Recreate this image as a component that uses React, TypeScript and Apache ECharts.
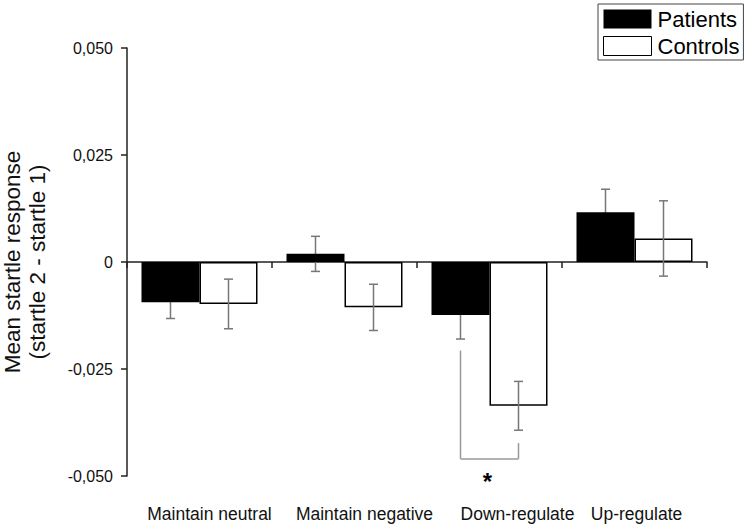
import React, { useEffect, useRef } from "react";
import * as echarts from "echarts";

const categories = ["Maintain neutral", "Maintain negative", "Down-regulate", "Up-regulate"];
const patients = [-0.0094, 0.0019, -0.0124, 0.0116];
const patientsErr = [0.0038, 0.0041, 0.0056, 0.0054];
const controls = [-0.0098, -0.0106, -0.0336, 0.0055];
const controlsErr = [0.0058, 0.0054, 0.0057, 0.0088];
const yTickValues = [-0.05, -0.025, 0, 0.025, 0.05];
const yTickLabels = ["-0,050", "-0,025", "0", "0,025", "0,050"];
// significance bracket: [category, left top, right top, bottom, star position]
const bracketData = [[2, -0.0207, -0.0423, -0.046, -0.0512]];
const starLabel = "*";

// layout only: horizontal shift (px) of each category label, as placed in the original
const labelShift = [10, 20, 28, 2];

const FONT = "'Liberation Sans', Arial, sans-serif";

export default function App() {
  const ref = useRef<HTMLDivElement>(null);
  useEffect(() => {
    if (!ref.current) return;
    const chart = echarts.init(ref.current, undefined, { renderer: "svg" });
    const yMin = yTickValues[0];
    const yInt = yTickValues[1] - yTickValues[0];
    const errRender = (offFrac: number) => (params: any, api: any) => {
      const idx = api.value(0);
      const lo = api.value(1);
      const hi = api.value(2);
      const band = api.size([1, 0])[0];
      const off = offFrac * band;
      const top = api.coord([idx, hi]);
      const bot = api.coord([idx, lo]);
      const x = top[0] + off;
      const cap = 4.5;
      const st = { stroke: "#777", lineWidth: 1.5 };
      return {
        type: "group",
        children: [
          { type: "line", shape: { x1: x, y1: top[1], x2: x, y2: bot[1] }, style: st },
          { type: "line", shape: { x1: x - cap, y1: top[1], x2: x + cap, y2: top[1] }, style: st },
          { type: "line", shape: { x1: x - cap, y1: bot[1], x2: x + cap, y2: bot[1] }, style: st },
        ],
      };
    };
    const rich: Record<string, any> = {};
    labelShift.forEach((s, i) => {
      rich["c" + i] = {
        fontSize: 17.5,
        color: "#111",
        fontFamily: FONT,
        padding: s >= 0 ? [0, 0, 0, 2 * s] : [0, -2 * s, 0, 0],
      };
    });
    chart.setOption({
      animation: false,
      backgroundColor: "#fff",
      textStyle: { fontFamily: FONT },
      grid: { left: 127, right: 41, top: 48, bottom: 49, containLabel: false, outerBoundsMode: "none" },
      legend: {
        orient: "vertical",
        left: 598,
        top: 4,
        padding: [4, 4, 3, 5],
        itemGap: 5,
        itemWidth: 48,
        itemHeight: 19,
        borderColor: "#444",
        borderWidth: 1,
        textStyle: { fontSize: 22, color: "#000", fontFamily: FONT, padding: [0, 0, 0, 1] },
        data: [
          { name: "Patients", icon: "rect", itemStyle: { color: "#000" } },
          { name: "Controls", icon: "rect", itemStyle: { color: "#fff", borderColor: "#000", borderWidth: 1 } },
        ],
      },
      xAxis: [
        {
          type: "category",
          data: categories,
          axisLine: { onZero: true, lineStyle: { color: "#222", width: 1.5 } },
          axisTick: { show: true, length: 6, lineStyle: { color: "#222", width: 1.5 } },
          axisLabel: { show: false },
        },
        {
          type: "category",
          data: categories,
          position: "bottom",
          axisLine: { show: false, onZero: false },
          axisTick: { show: false },
          axisLabel: {
            fontSize: 17.5,
            color: "#111",
            margin: 29,
            interval: 0,
            fontFamily: FONT,
            formatter: (v: string, i: number) => `{c${i}|${v}}`,
            rich,
          },
        },
      ],
      yAxis: {
        type: "value",
        min: yMin,
        max: yTickValues[yTickValues.length - 1],
        interval: yInt,
        name: "Mean startle response\n(startle 2 - startle 1)",
        nameLocation: "middle",
        nameGap: 77,
        nameTextStyle: { fontSize: 22.5, color: "#111", lineHeight: 25, fontFamily: FONT },
        axisLine: { show: true, onZero: false, lineStyle: { color: "#222", width: 1.5 } },
        axisTick: { show: true, length: 6, lineStyle: { color: "#222", width: 1.5 } },
        splitLine: { show: false },
        axisLabel: {
          fontSize: 16,
          color: "#111",
          margin: 14,
          fontFamily: FONT,
          formatter: (v: number) => yTickLabels[Math.round((v - yMin) / yInt)] ?? "",
        },
      },
      series: [
        {
          name: "Patients",
          type: "bar",
          data: patients,
          barWidth: "40%",
          barGap: "0%",
          z: 2,
          itemStyle: { color: "#000" },
        },
        {
          name: "Controls",
          type: "bar",
          data: controls,
          barWidth: "40%",
          barGap: "0%",
          z: 2,
          itemStyle: { color: "#fff", borderColor: "#000", borderWidth: 1.5 },
        },
        {
          name: "PatientsErr",
          type: "custom",
          z: 1,
          renderItem: errRender(-0.2),
          data: patients.map((v, i) => [i, v - patientsErr[i], v + patientsErr[i]]),
        },
        {
          name: "ControlsErr",
          type: "custom",
          z: 3,
          renderItem: errRender(0.2),
          data: controls.map((v, i) => [i, v - controlsErr[i], v + controlsErr[i]]),
        },
        {
          name: "Significance",
          type: "custom",
          z: 3,
          clip: false,
          renderItem: (params: any, api: any) => {
            const idx = api.value(0);
            const band = api.size([1, 0])[0];
            const off = 0.2 * band;
            const lt = api.coord([idx, api.value(1)]);
            const rt = api.coord([idx, api.value(2)]);
            const b = api.coord([idx, api.value(3)]);
            const s = api.coord([idx, api.value(4)]);
            const xl = lt[0] - off;
            const xr = lt[0] + off;
            const st = { stroke: "#999", lineWidth: 1.5 };
            return {
              type: "group",
              children: [
                { type: "line", shape: { x1: xl, y1: lt[1], x2: xl, y2: b[1] }, style: st },
                { type: "line", shape: { x1: xl, y1: b[1], x2: xr, y2: b[1] }, style: st },
                { type: "line", shape: { x1: xr, y1: rt[1], x2: xr, y2: b[1] }, style: st },
                {
                  type: "text",
                  x: s[0] - 2,
                  y: s[1],
                  style: {
                    text: starLabel,
                    fontSize: 24,
                    fontWeight: "bold",
                    fontFamily: FONT,
                    fill: "#000",
                    align: "center",
                    verticalAlign: "middle",
                  },
                },
              ],
            };
          },
          data: bracketData,
        },
      ],
    });
    return () => chart.dispose();
  }, []);
  return (
    <div
      ref={ref}
      style={{ position: "fixed", left: 0, top: 0, width: 748, height: 525, background: "#fff" }}
    />
  );
}
